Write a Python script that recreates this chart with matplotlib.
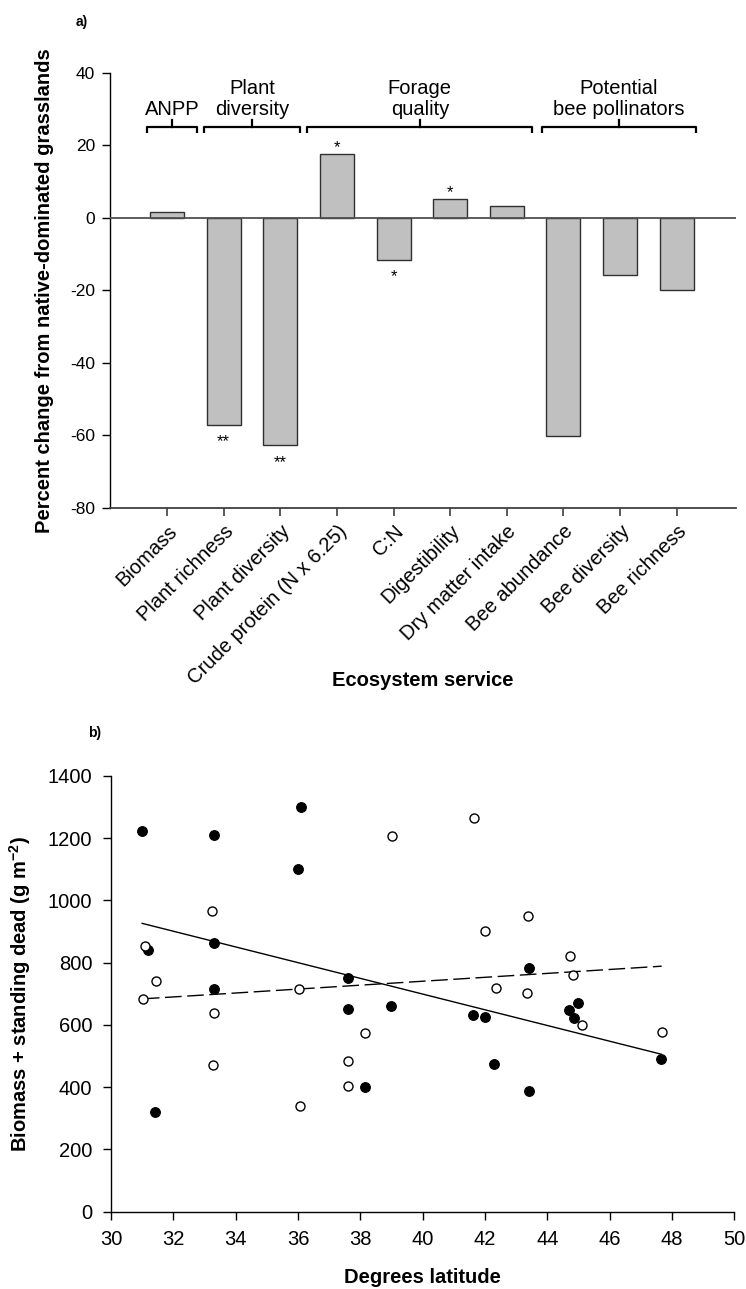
import numpy as np
import matplotlib
matplotlib.use("Agg")
import matplotlib.pyplot as plt

plt.rcParams['font.family'] = ['Liberation Sans', 'DejaVu Sans']
plt.rcParams['axes.unicode_minus'] = False
plt.rcParams['mathtext.fontset'] = 'custom'
plt.rcParams['mathtext.rm'] = 'Liberation Sans'
plt.rcParams['mathtext.bf'] = 'Liberation Sans:bold'

# ---- panel a: percent change by ecosystem service ----
services = ["Biomass", "Plant richness", "Plant diversity", "Crude protein (N x 6.25)",
            "C:N", "Digestibility", "Dry matter intake", "Bee abundance",
            "Bee diversity", "Bee richness"]
pct_change = [1.6, -57.2, -62.8, 17.7, -11.6, 5.2, 3.3, -60.2, -15.8, -20.0]
significance = ["", "**", "**", "*", "*", "*", "", "", "", ""]

group_names = ["ANPP", "Plant\ndiversity", "Forage\nquality", "Potential\nbee pollinators"]
group_first = [0, 1, 3, 7]
group_last = [0, 2, 6, 9]

# ---- panel b: biomass + standing dead vs latitude ----
lat_filled = [31.0, 33.3, 33.3, 31.2, 33.3, 31.4, 36.1, 36.0, 37.6, 37.6, 39.0,
              41.6, 42.0, 42.3, 43.4, 38.15, 43.4, 44.7, 45.0, 44.86, 47.66]
bio_filled = [1222, 1210, 863, 840, 716, 320, 1300, 1100, 752, 652, 660,
              633, 626, 474, 387, 401, 784, 648, 669, 622, 489]
lat_open = [41.65, 39.01, 43.39, 42.0, 44.72, 44.81, 36.03, 42.35, 43.36, 45.1,
            47.67, 38.15, 37.6, 37.6, 36.08, 31.08, 33.25, 31.45, 31.02, 33.3, 33.26]
bio_open = [1266, 1207, 951, 902, 822, 760, 715, 720, 704, 600,
            578, 573, 483, 403, 340, 853, 966, 742, 684, 639, 470]

fig = plt.figure(figsize=(7.46, 12.89), dpi=100)

# ================= panel a =================
ax1 = fig.add_axes([0.1481, 0.6061, 0.8385, 0.3375])
xpos = np.arange(1, len(services) + 1)
ax1.bar(xpos, pct_change, width=0.6, color='#c0c0c0', edgecolor='#303030',
        linewidth=1.0, zorder=2)
ax1.axhline(0, color='#505050', lw=1.3, zorder=3)

for x, v, s in zip(xpos, pct_change, significance):
    if not s:
        continue
    yc = v + 3.2 if v > 0 else v - 3.2
    ax1.annotate(s, (x, yc), xytext=(0, -7), textcoords='offset points',
                 ha='center', va='baseline', fontsize=12)

# brackets over the service groups
pads = [(0.35, 0.52), (0.34, 0.35), (0.52, 0.45), (0.38, 0.35)]
br_y, br_drop, br_rise = 24.9, 1.5, 2.0
for name, i0, i1, (pl, pr) in zip(group_names, group_first, group_last, pads):
    x0 = xpos[i0] - pl
    x1 = xpos[i1] + pr
    xm = 0.5 * (x0 + x1)
    ax1.plot([x0, x0, x1, x1], [br_y - br_drop, br_y, br_y, br_y - br_drop],
             color='black', lw=1.6, solid_joinstyle='round', solid_capstyle='butt',
             clip_on=False)
    ax1.plot([xm, xm], [br_y, br_y + br_rise], color='black', lw=1.6, clip_on=False)
    ax1.text(xm, 27.2, name, ha='center', va='bottom', fontsize=14.5,
             linespacing=1.12)

ax1.set_xlim(0, 11.05)
ax1.set_ylim(-80, 40)
ax1.set_yticks(np.arange(-80, 41, 20))
ax1.set_xticks(xpos)
ax1.set_xticklabels(services, rotation=45, ha='right', rotation_mode='anchor',
                    fontsize=14.5)
ax1.tick_params(axis='x', direction='out', length=6, width=1.2, pad=4,
                color='#404040')
ax1.tick_params(axis='y', direction='out', length=6, width=1.0, pad=5,
                labelsize=12.5)
for side in ('top', 'right'):
    ax1.spines[side].set_visible(False)
ax1.spines['left'].set_linewidth(1.0)
ax1.spines['bottom'].set_linewidth(1.3)
ax1.spines['bottom'].set_color('#404040')

ax1.set_ylabel("Percent change from native-dominated grasslands", fontsize=14.5,
               fontweight='bold', va='center', ha='center')
ax1.yaxis.set_label_coords(-0.1047, 0.5)
ax1.set_xlabel("Ecosystem service", fontsize=14.5, fontweight='bold',
               va='center', ha='center')
ax1.xaxis.set_label_coords(0.5, -0.398)

fig.text(76 / 746, 1 - 22 / 1289, "a)", fontsize=10, fontweight='bold',
         ha='left', va='center')

# ================= panel b =================
ax2 = fig.add_axes([0.1488, 0.0600, 0.8355, 0.3380])

xf = np.array(lat_filled)
yf = np.array(bio_filled)
xo = np.array(lat_open)
yo = np.array(bio_open)

cf = np.polyfit(xf, yf, 1)
co = np.polyfit(xo, yo, 1)
xl_f = np.array([xf.min(), xf.max()])
xl_o = np.array([xo.min(), xo.max()])
ax2.plot(xl_f, np.polyval(cf, xl_f), color='black', lw=1.0, zorder=2)
ax2.plot(xl_o, np.polyval(co, xl_o), color='black', lw=1.0, zorder=2,
         dashes=(12, 4))

ax2.plot(xf, yf, 'o', ms=7, mfc='black', mec='black', mew=0.8, ls='none', zorder=3)
ax2.plot(xo, yo, 'o', ms=6.5, mfc='white', mec='black', mew=1.0, ls='none', zorder=4)

ax2.set_xlim(30, 50)
ax2.set_ylim(0, 1400)
ax2.set_xticks(np.arange(30, 51, 2))
ax2.set_yticks(np.arange(0, 1401, 200))
ax2.tick_params(direction='out', length=6, width=1.0, labelsize=14.5)
ax2.tick_params(axis='y', pad=7.5)
ax2.tick_params(axis='x', pad=7)
for side in ('top', 'right'):
    ax2.spines[side].set_visible(False)
for side in ('left', 'bottom'):
    ax2.spines[side].set_linewidth(1.0)

ax2.set_ylabel(r"Biomass + standing dead (g m$^{\mathbf{-2}}$)", fontsize=14.5,
               fontweight='bold', va='center', ha='center')
ax2.yaxis.set_label_coords(-0.146, 0.5)
ax2.set_xlabel("Degrees latitude", fontsize=14.5, fontweight='bold',
               va='center', ha='center')
ax2.xaxis.set_label_coords(0.5, -0.152)

fig.text(88 / 746, 1 - 733 / 1289, "b)", fontsize=10, fontweight='bold',
         ha='left', va='center')

fig.savefig("out.png", dpi=100)
